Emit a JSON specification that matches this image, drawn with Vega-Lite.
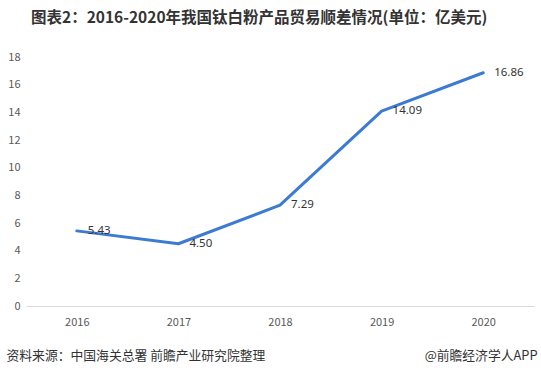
{
  "$schema": "https://vega.github.io/schema/vega-lite/v6.json",
  "autosize": {"type": "none"},
  "width": 508,
  "height": 249,
  "padding": {"left": 26, "top": 57, "right": 7, "bottom": 70},
  "background": "white",
  "config": {
    "view": {"stroke": null},
    "font": "Noto Sans CJK SC"
  },
  "title": {
    "text": "图表2：2016-2020年我国钛白粉产品贸易顺差情况(单位：亿美元)",
    "anchor": "start",
    "frame": "group",
    "dx": 5,
    "offset": 25,
    "fontSize": 15.5,
    "fontWeight": "bold",
    "color": "#333333",
    "font": "Noto Sans CJK SC"
  },
  "data": {
    "values": [
      {"year": "2016", "value": 5.43},
      {"year": "2017", "value": 4.50},
      {"year": "2018", "value": 7.29},
      {"year": "2019", "value": 14.09},
      {"year": "2020", "value": 16.86}
    ]
  },
  "encoding": {
    "x": {
      "field": "year",
      "type": "ordinal",
      "scale": {"type": "point", "padding": 0.5},
      "axis": {
        "labelAngle": 0,
        "ticks": false,
        "domain": true,
        "domainColor": "#d9d9d9",
        "domainWidth": 1,
        "labelPadding": 10,
        "labelFontSize": 11,
        "labelColor": "#595959",
        "title": "资料来源：中国海关总署 前瞻产业研究院整理",
        "titleAnchor": "start",
        "titleAlign": "left",
        "titleBaseline": "middle",
        "titleX": -20,
        "titleY": 49,
        "titleFontSize": 12.8,
        "titleFontWeight": "normal",
        "titleColor": "#333333"
      }
    },
    "y": {
      "field": "value",
      "type": "quantitative",
      "scale": {"domain": [0, 18], "nice": false},
      "axis": {
        "values": [0, 2, 4, 6, 8, 10, 12, 14, 16, 18],
        "grid": false,
        "ticks": false,
        "domain": false,
        "labelPadding": 6,
        "labelFontSize": 11,
        "labelColor": "#595959",
        "title": "@前瞻经济学人APP",
        "titleAngle": 0,
        "titleAlign": "right",
        "titleBaseline": "middle",
        "titleX": 511,
        "titleY": 298,
        "titleFontSize": 12.8,
        "titleFontWeight": "normal",
        "titleColor": "#333333"
      }
    }
  },
  "layer": [
    {
      "mark": {"type": "line", "interpolate": "linear", "color": "#3d7bd2", "strokeWidth": 3, "strokeJoin": "round", "strokeCap": "round"}
    },
    {
      "mark": {"type": "text", "align": "left", "baseline": "middle", "dx": 11, "fontSize": 11.5, "color": "#333333", "font": "Noto Sans"},
      "encoding": {"text": {"field": "value", "type": "quantitative", "format": ".2f"}}
    }
  ]
}
